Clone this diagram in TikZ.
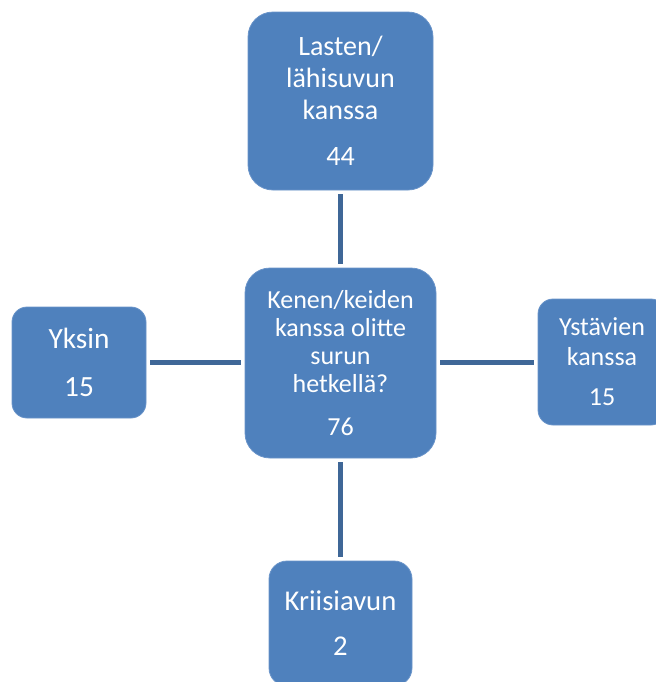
\documentclass[tikz,border=0pt]{standalone}
\usepackage{fontspec}
\setmainfont{Carlito}
\definecolor{boxblue}{HTML}{4F81BD}
\definecolor{boxedge}{HTML}{6A94C9}
\definecolor{linkblue}{HTML}{3F6797}
\begin{document}
\begin{tikzpicture}[x=0.75pt,y=-0.75pt,
  box/.style={fill=boxblue,draw=boxedge,line width=0.6pt,text=white,align=center,inner sep=0pt},
  link/.style={draw=linkblue,line width=3.75pt,shorten >=3pt,shorten <=3pt}]
\useasboundingbox (0,0) rectangle (656,682);
\clip (0,0) rectangle (656,682);
\node[box,rounded corners=18.75pt,minimum width=138.75pt,minimum height=133.5pt,
  font=\fontsize{21}{24}\selectfont] (top) at (340.5,101)
  {Lasten/\\lähisuvun\\kanssa\\[10.5pt]44};
\node[box,rounded corners=18.75pt,minimum width=143.25pt,minimum height=142.5pt,
  font=\fontsize{19.5}{21.2}\selectfont] (c) at (340.5,363)
  {Kenen/keiden\\kanssa olitte\\surun\\hetkellä?\\[11pt]76};
\node[box,rounded corners=11.25pt,minimum width=100.5pt,minimum height=83.25pt,
  font=\fontsize{22}{26}\selectfont] (left) at (79,362.5)
  {Yksin\\[10pt]15};
\node[box,rounded corners=11.25pt,minimum width=96pt,minimum height=94.5pt,
  font=\fontsize{19.5}{22.5}\selectfont] (right) at (602,362)
  {Ystävien\\kanssa\\[7.5pt]15};
\node[box,rounded corners=13.5pt,minimum width=107.25pt,minimum height=93.75pt,
  font=\fontsize{21.5}{24}\selectfont] (bottom) at (340.5,623.5)
  {Kriisiavun\\[9.75pt]2};
\draw[link] (top) -- (c);
\draw[link] (c) -- (bottom);
\draw[link] (left.east) -- (left.east -| c.west);
\draw[link] (c.east |- right.west) -- (right.west);
\end{tikzpicture}
\end{document}
